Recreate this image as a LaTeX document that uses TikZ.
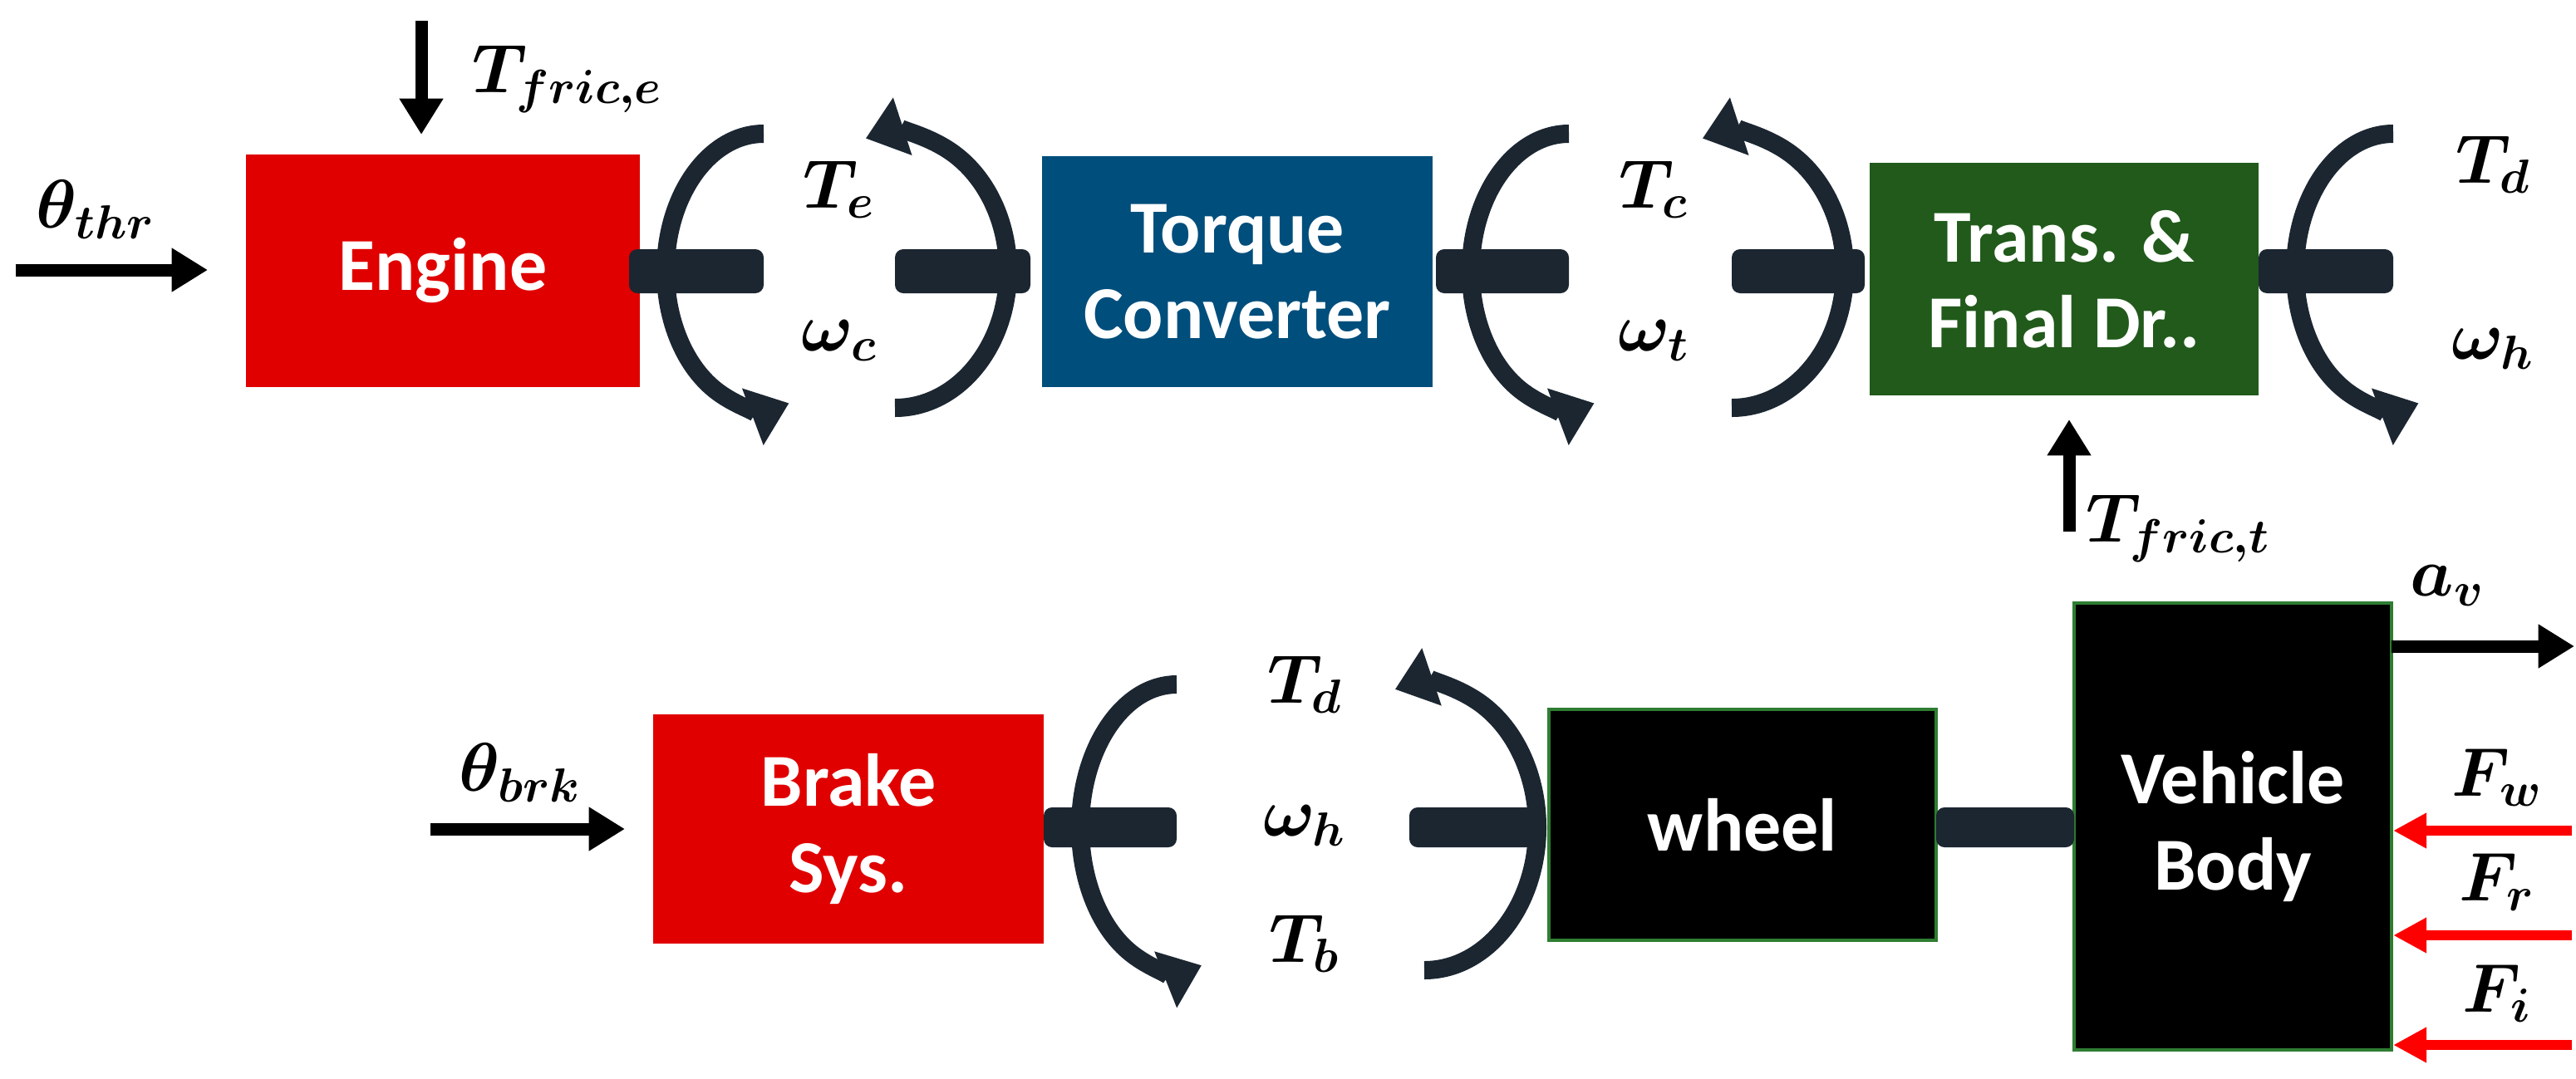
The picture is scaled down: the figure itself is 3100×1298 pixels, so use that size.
\documentclass[tikz,border=0pt]{standalone}
\usepackage{fontspec}
\usepackage{amsmath,bm}
\setsansfont{Carlito}
\usetikzlibrary{arrows.meta}
\definecolor{cred}{HTML}{E00000}
\definecolor{cblue}{HTML}{004E7C}
\definecolor{cgreen}{HTML}{215A1B}
\definecolor{cdark}{HTML}{1B2631}
\definecolor{cframe}{HTML}{2E7D32}
\begin{document}
\begin{tikzpicture}[x=0.3pt,y=-0.3pt,
  box/.style={draw=none,minimum width=#1,inner sep=0pt,align=center,text=white,font=\sffamily\bfseries\fontsize{27}{31}\selectfont},
  lbl/.style={inner sep=0pt,font=\fontsize{23}{26}\selectfont},
  shaft/.style={fill=cdark,rounded corners=3pt},
  rot/.style={draw=cdark,line width=6.6pt,-{Triangle[length=14pt,width=21pt]}},
  inarr/.style={line width=4.5pt,-{Triangle[length=13pt,width=15pt]}},
  redarr/.style={draw=red,line width=3.5pt,-{Triangle[length=12pt,width=12pt]}}]
\useasboundingbox (0,0) rectangle (3100,1298);
% boxes
\fill[cred] (296,186) rectangle (770,466);
\node[box=142pt] (eng) at (533,326) {Engine};
\fill[cblue] (1254,188) rectangle (1724,466);
\node[box=141pt] (tc) at (1489,327) {Torque\\Converter};
\fill[cgreen] (2250,196) rectangle (2718,476);
\node[box=140pt] (tr) at (2484,336) {Trans. \&\\Final Dr..};
\fill[cred] (786,860) rectangle (1256,1136);
\node[box=141pt] (brk) at (1021,998) {Brake\\Sys.};
\filldraw[black,draw=cframe,line width=1pt] (1864,854) rectangle (2330,1132);
\node[box=140pt] (wh) at (2097,993) {wheel};
\filldraw[black,draw=cframe,line width=1pt] (2496,726) rectangle (2878,1264);
\node[box=114pt] (vb) at (2687,995) {Vehicle\\Body};
% shafts
\fill[shaft] (757,300) rectangle (919,353);
\fill[shaft] (1077,300) rectangle (1240,353);
\fill[shaft] (1728,300) rectangle (1888,353);
\fill[shaft] (2084,300) rectangle (2244,353);
\fill[shaft] (2718,300) rectangle (2880,353);
\fill[shaft] (1256,972) rectangle (1416,1020);
\fill[shaft] (1696,972) rectangle (1860,1020);
\fill[shaft] (2330,972) rectangle (2496,1020);
% rotation arrows top
\draw[rot] (919,326) ++(-90:118 and 165) arc[start angle=-90,end angle=-285,x radius=118,y radius=165];
\draw[rot] (1077,326) ++(90:136 and 165) arc[start angle=90,end angle=-105,x radius=136,y radius=165];
\draw[rot] (1888,326) ++(-90:118 and 165) arc[start angle=-90,end angle=-285,x radius=118,y radius=165];
\draw[rot] (2084,326) ++(90:136 and 165) arc[start angle=90,end angle=-105,x radius=136,y radius=165];
\draw[rot] (2880,326) ++(-90:118 and 165) arc[start angle=-90,end angle=-285,x radius=118,y radius=165];
% bottom
\draw[rot] (1416,996) ++(-90:116 and 172) arc[start angle=-90,end angle=-285,x radius=116,y radius=172];
\draw[rot] (1714,996) ++(90:136 and 172) arc[start angle=90,end angle=-105,x radius=136,y radius=172];
% labels
\node[lbl] (te) at (1010,228) {$\bm{T_e}$};
\node[lbl] (wc) at (1010,410) {$\bm{\omega_c}$};
\node[lbl] (tcl) at (1990,228) {$\bm{T_c}$};
\node[lbl] (wt) at (1990,410) {$\bm{\omega_t}$};
\node[lbl] (td) at (3000,198) {$\bm{T_d}$};
\node[lbl] (wh1) at (3000,420) {$\bm{\omega_h}$};
\node[lbl] (td2) at (1570,824) {$\bm{T_d}$};
\node[lbl] (wh2) at (1570,994) {$\bm{\omega_h}$};
\node[lbl] (tb) at (1570,1136) {$\bm{T_b}$};
\node[lbl] (thr) at (115,252) {$\bm{\theta_{thr}}$};
\node[lbl] (bk) at (626,930) {$\bm{\theta_{brk}}$};
\node[lbl,anchor=west] (tfe) at (568,95) {$\bm{T_{fric,e}}$};
\node[lbl,anchor=west] (tft) at (2510,636) {$\bm{T_{fric,t}}$};
\node[lbl] (av) at (2945,705) {$\bm{a_v}$};
\node[lbl] (fw) at (3005,936) {$\bm{F_w}$};
\node[lbl] (fr) at (3005,1062) {$\bm{F_r}$};
\node[lbl] (fi) at (3005,1196) {$\bm{F_i}$};
% input arrows
\coordinate (c1) at (19,325); \coordinate (c1e) at (250,325);
\draw[inarr] (c1) -- (c1e);
\coordinate (c2) at (507,25); \coordinate (c2e) at (507,162);
\draw[inarr] (c2) -- (c2e);
\coordinate (c3) at (2490,640); \coordinate (c3e) at (2490,505);
\draw[inarr] (c3) -- (c3e);
\coordinate (c4) at (518,998); \coordinate (c4e) at (752,998);
\draw[inarr] (c4) -- (c4e);
\coordinate (c5) at (2878,778); \coordinate (c5e) at (3098,778);
\draw[inarr] (c5) -- (c5e);
\coordinate (f1) at (3095,1000); \coordinate (f1e) at (2880,1000);
\draw[redarr] (f1) -- (f1e);
\coordinate (f2) at (3095,1126); \coordinate (f2e) at (2880,1126);
\draw[redarr] (f2) -- (f2e);
\coordinate (f3) at (3095,1258); \coordinate (f3e) at (2880,1258);
\draw[redarr] (f3) -- (f3e);
\end{tikzpicture}
\end{document}
